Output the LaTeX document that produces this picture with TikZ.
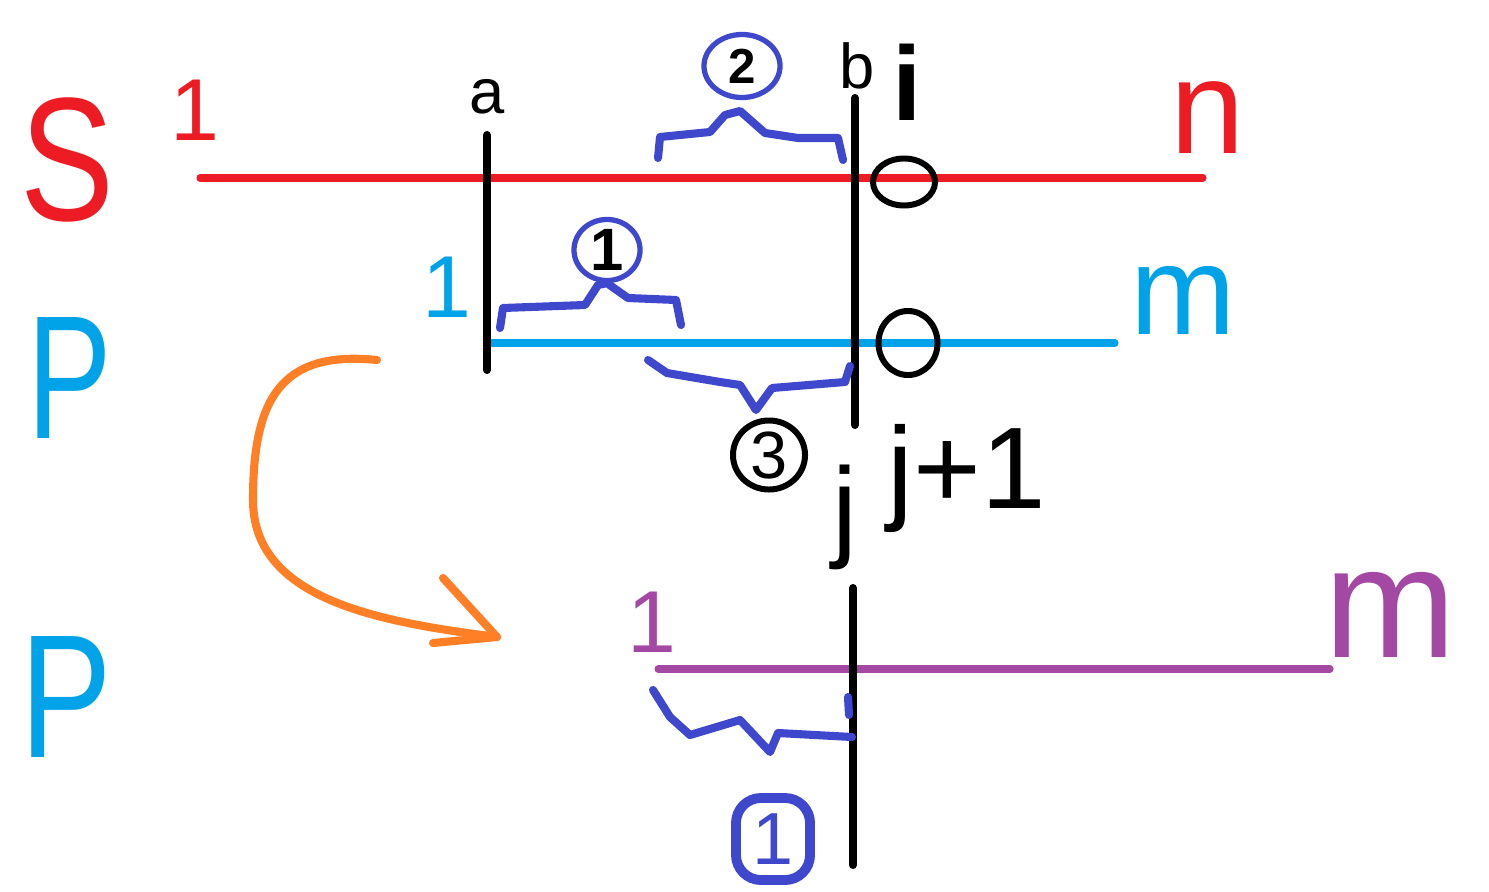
\documentclass[tikz,border=0pt]{standalone}
\usepackage{fontspec}
\setmainfont{Liberation Sans}
\usetikzlibrary{shapes.geometric}
\definecolor{cred}{HTML}{ED1C24}
\definecolor{ccyan}{HTML}{00A2E8}
\definecolor{cblue}{HTML}{3F48CC}
\definecolor{cpurple}{HTML}{A349A4}
\definecolor{corange}{HTML}{FF7F27}
\begin{document}
\begin{tikzpicture}[x=0.01cm,y=-0.01cm,line cap=round,line join=round,
  lbl/.style={inner sep=0pt},
  fs/.style={font=\fontsize{#1}{#1}\selectfont},
  fsb/.style={font=\fontsize{#1}{#1}\selectfont\bfseries},
  hline/.style={line width=2pt},
  vline/.style={line width=2.3pt,black},
  bracepath/.style={cblue,line width=2.3pt},
  ring/.style={draw,ellipse,line width=1.7pt,inner sep=0pt},
  bring/.style={draw=cblue,ellipse,line width=1.5pt,inner sep=0pt}]
\useasboundingbox (0,0) rectangle (1489,891);
% row labels
\node[lbl,fs=50pt,text=cred] (S) at (67,160) {\scalebox{0.8}[1]{S}};
\node[lbl,fs=50pt,text=ccyan] (P1) at (70,378) {\scalebox{0.72}[1]{P}};
\node[lbl,fs=50pt,text=ccyan] (P2) at (66,697) {\scalebox{0.78}[1]{P}};
% index labels
\node[lbl,fs=25pt,text=cred] (s1) at (195,110) {1};
\node[lbl,fs=38pt,text=cred] (n) at (1208,118) {n};
\node[lbl,fs=25pt,text=ccyan] (p1) at (447,287) {1};
\node[lbl,fs=36pt,text=ccyan] (m1) at (1183,300) {m};
\node[lbl,fs=25pt,text=cpurple] (q1) at (652,622) {1};
\node[lbl,fs=45pt,text=cpurple] (m2) at (1390,615) {m};
\node[lbl,fs=18pt] (a) at (487,97) {a};
\node[lbl,fs=18pt] (b) at (857,66) {b};
\node[lbl,fsb=30pt] (i) at (907,82) {i};
\node[lbl,fs=32pt] (j) at (845,517) {j};
\node[lbl,fs=33pt] (j1) at (967,478) {j+1};
% horizontal lines
\coordinate (rL) at (200,178); \coordinate (rR) at (1203,178);
\coordinate (cL) at (490,343); \coordinate (cR) at (1115,343);
\coordinate (uL) at (658,669); \coordinate (uR) at (1330,669);
\draw[hline,cred] (rL) -- (rR);
\draw[hline,ccyan] (cL) -- (cR);
\draw[hline,cpurple] (uL) -- (uR);
% vertical lines
\coordinate (aT) at (487,135); \coordinate (aB) at (487,370);
\coordinate (bT) at (855,98); \coordinate (bB) at (855,425);
\coordinate (jT) at (853,588); \coordinate (jB) at (853,865);
\draw[vline] (aT) -- (aB);
\draw[vline] (bT) -- (bB);
\draw[vline] (jT) -- (jB);
% black rings
\node[ring,minimum width=0.62cm,minimum height=0.47cm] (o1) at (904,182) {};
\node[ring,minimum width=0.59cm,minimum height=0.64cm] (o2) at (908,343) {};
% circled numbers
\node[bring,minimum width=0.76cm,minimum height=0.63cm,fsb=14pt] (c2) at (742,66) {2};
\node[bring,minimum width=0.66cm,minimum height=0.61cm,fsb=17pt] (c1) at (607,250) {1};
\node[ring,minimum width=0.72cm,minimum height=0.69cm,fs=19pt] (c3) at (769,455) {3};
\node[draw=cblue,line width=2.8pt,rounded corners=0.25cm,minimum width=0.74cm,minimum height=0.82cm,inner sep=0pt,fs=21pt,text=cblue] (c0) at (773,839) {1};
% braces
\draw[bracepath] (658,158) -- (660,137) -- (710,132) -- (725,115) -- (740,111) -- (765,133) -- (798,138) -- (838,138) -- (843,160);
\draw[bracepath] (500,328) -- (503,308) -- (585,305) -- (598,285) -- (c1.south) -- (628,298) -- (676,300) -- (681,325);
\draw[bracepath] (648,360) -- (667,373) -- (720,382) -- (740,385) -- (756,410) -- (772,388) -- (845,382) -- (850,366);
\draw[bracepath] (653,690) -- (670,717) -- (690,735) -- (740,720) -- (770,752) -- (778,733) -- (852,737);
\draw[bracepath] (848,697) -- (849,715);
% orange arrow
\coordinate (oS) at (377,360);
\coordinate (oT) at (497,637);
\draw[corange,line width=2.3pt] (oS) .. controls (280,350) and (253,400) .. (253,500) .. controls (253,600) and (380,622) .. (oT);
\draw[corange,line width=2.3pt] (443,578) -- (oT) -- (433,643);
\end{tikzpicture}
\end{document}
